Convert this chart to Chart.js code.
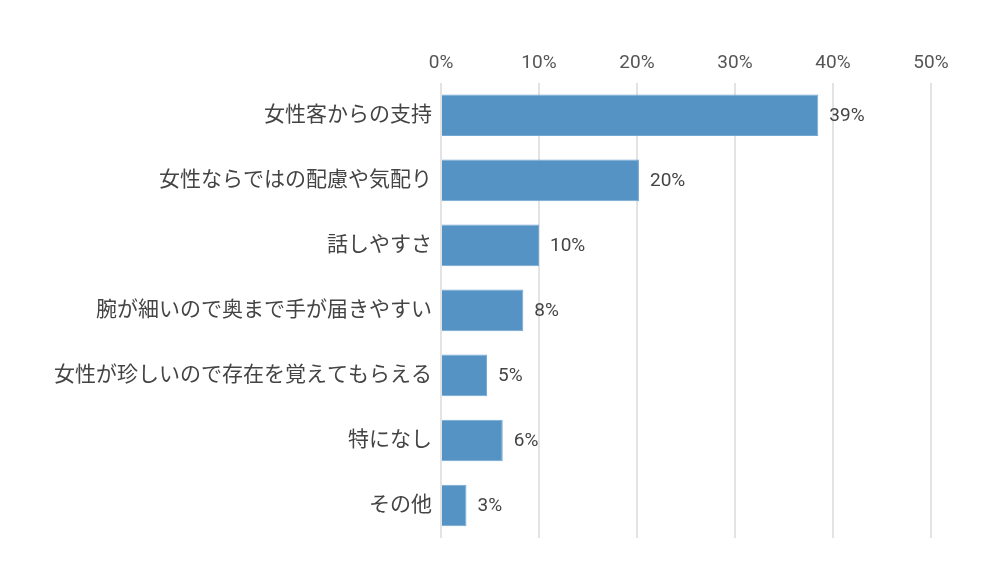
<!DOCTYPE html>
<html>
<head>
<meta charset="utf-8">
<script src="https://cdn.jsdelivr.net/npm/chart.js@4"></script>
<style>
  html, body { margin: 0; padding: 0; background: #fff; }
  #wrap { width: 1000px; height: 580px; }
</style>
</head>
<body>
<div id="wrap"><canvas id="myChart" width="1000" height="580"></canvas></div>
<script>
const categories = [
  "女性客からの支持",
  "女性ならではの配慮や気配り",
  "話しやすさ",
  "腕が細いので奥まで手が届きやすい",
  "女性が珍しいので存在を覚えてもらえる",
  "特になし",
  "その他"
];
const values = [38.5, 20.2, 10.0, 8.4, 4.7, 6.3, 2.6];
const valueLabels = ["39%", "20%", "10%", "8%", "5%", "6%", "3%"];
const tickValues = [0, 10, 20, 30, 40, 50];

const fontFamily = "Roboto, 'Noto Sans CJK JP', sans-serif";

// draws the % label next to each bar
const barLabels = {
  id: "barLabels",
  afterDatasetsDraw(chart) {
    const ctx = chart.ctx;
    const meta = chart.getDatasetMeta(0);
    ctx.save();
    ctx.font = "19px " + fontFamily;
    ctx.fillStyle = "#444";
    ctx.textAlign = "left";
    ctx.textBaseline = "middle";
    meta.data.forEach((bar, i) => {
      ctx.fillText(valueLabels[i], bar.x + 11, bar.y + 1);
    });
    ctx.restore();
  }
};

new Chart("myChart", {
  type: "bar",
  data: {
    labels: categories,
    datasets: [{
      data: values,
      backgroundColor: "#5593c5",
      borderColor: "#74a7d2",
      borderWidth: 1,
      barPercentage: 0.64,
      categoryPercentage: 1.0
    }]
  },
  options: {
    indexAxis: "y",
    responsive: false,
    animation: false,
    layout: { padding: { top: 44, right: 69, bottom: 42, left: 0 } },
    plugins: {
      legend: { display: false },
      tooltip: { enabled: false }
    },
    scales: {
      x: {
        position: "top",
        min: 0,
        max: 50,
        afterBuildTicks(axis) {
          axis.ticks = tickValues.map(v => ({ value: v }));
        },
        ticks: {
          callback: v => v + "%",
          color: "#555",
          font: { family: fontFamily, size: 19 },
          padding: 8
        },
        grid: {
          color: "#e3e3e3",
          lineWidth: 2,
          drawTicks: false
        },
        border: { display: false }
      },
      y: {
        afterFit(axis) { axis.width = 441; },
        ticks: {
          color: "#444",
          font: { family: fontFamily, size: 21 },
          padding: 1
        },
        grid: { display: false },
        border: { display: false }
      }
    }
  },
  plugins: [barLabels]
});
</script>
</body>
</html>
